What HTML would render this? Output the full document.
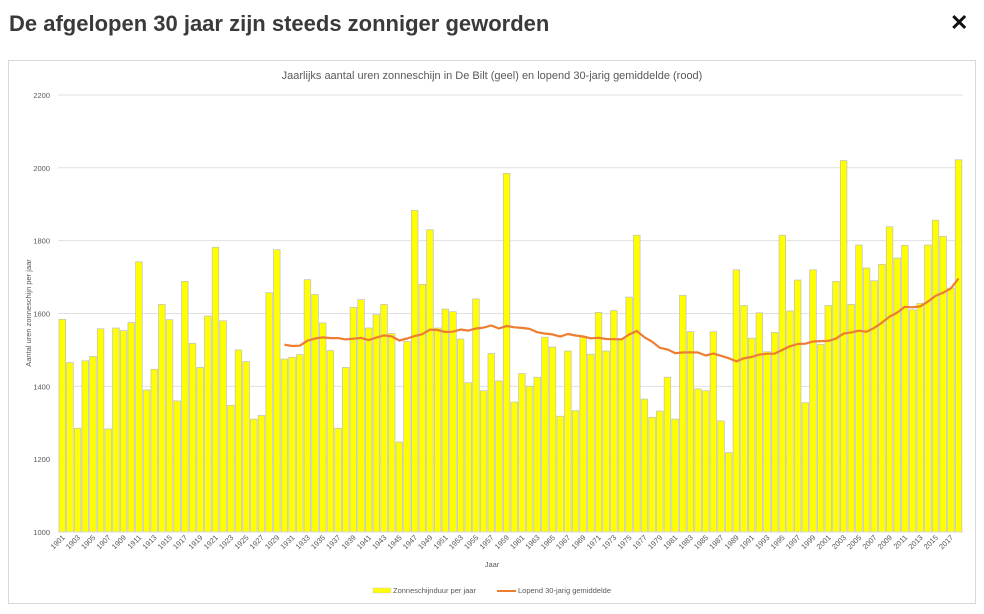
<!DOCTYPE html>
<html><head><meta charset="utf-8"><style>
body{margin:0;background:#fff;width:984px;height:614px;overflow:hidden;font-family:"Liberation Sans",sans-serif}
h1{position:absolute;left:9px;top:11px;margin:0;font-size:22px;font-weight:bold;color:#3a3a3a;letter-spacing:0px}
.x{position:absolute;left:950px;top:10px;font-size:22px;font-weight:bold;color:#111}
svg{position:absolute;left:0;top:0}
</style></head><body>
<h1>De afgelopen 30 jaar zijn steeds zonniger geworden</h1>
<div class="x">✕</div>
<svg id="s" width="984" height="614" xmlns="http://www.w3.org/2000/svg"></svg>
<script>
var d=[1584,1465,1285,1470,1482,1558,1283,1560,1553,1575,1742,1390,1447,1625,1583,1360,1688,1518,1452,1593,1782,1580,1348,1500,1468,1310,1320,1657,1775,1475,1480,1487,1693,1652,1574,1498,1285,1452,1617,1638,1560,1597,1625,1545,1247,1523,1883,1680,1830,1560,1612,1605,1530,1410,1640,1388,1490,1415,1985,1357,1435,1400,1425,1535,1508,1318,1497,1333,1535,1488,1603,1497,1608,1530,1645,1815,1365,1315,1332,1425,1310,1650,1550,1393,1388,1550,1305,1218,1720,1622,1532,1602,1495,1548,1815,1607,1692,1355,1720,1515,1622,1688,2020,1625,1788,1725,1690,1735,1838,1752,1787,1610,1628,1788,1856,1812,1670,2022];
function Y(v){return 532-(v-1000)*0.3642;}
var s='<rect x="8.5" y="60.5" width="967" height="543" fill="none" stroke="#d9d9d9"/>';
s+='<text x="492" y="79" font-size="11" fill="#595959" text-anchor="middle">Jaarlijks aantal uren zonneschijn in De Bilt (geel) en lopend 30-jarig gemiddelde (rood)</text>';
for(var v=1000;v<=2200;v+=200){var y=Y(v);s+='<line x1="58" x2="963" y1="'+y+'" y2="'+y+'" stroke="#e0e0e0"/>';s+='<text x="50" y="'+(y+3)+'" font-size="7.5" fill="#595959" text-anchor="end">'+v+'</text>';}
s+='<text transform="translate(31,313) rotate(-90)" font-size="7.5" fill="#595959" text-anchor="middle">Aantal uren zonneschijn per jaar</text>';
var p=7.66;
for(var i=0;i<d.length;i++){var x=59+i*p,y=Y(d[i]);s+='<rect x="'+x.toFixed(2)+'" y="'+y.toFixed(1)+'" width="6.6" height="'+(532-y).toFixed(1)+'" fill="#ffff00" stroke="#bfbfbf" stroke-width="0.7"/>';
if(i%2==0){var cx=x+3.3;s+='<text transform="translate('+(cx+3)+',538) rotate(-45)" font-size="7.5" fill="#595959" text-anchor="end">'+(1901+i)+'</text>';}}
var pts=[];for(var i=29;i<d.length;i++){var t=0;for(var j=i-29;j<=i;j++)t+=d[j];pts.push((59+i*p+3.3).toFixed(1)+','+Y(t/30).toFixed(1));}
s+='<polyline points="'+pts.join(' ')+'" fill="none" stroke="#ed7d31" stroke-width="2.2" stroke-linejoin="round"/>';
s+='<line x1="58" x2="963" y1="532" y2="532" stroke="#d9d9d9"/>';
s+='<text x="492" y="567" font-size="7.5" fill="#595959" text-anchor="middle">Jaar</text>';
s+='<rect x="373" y="588" width="18" height="5" fill="#ffff00" stroke="#c9c9c9" stroke-width="0.5"/><text x="393" y="593" font-size="7.5" fill="#595959">Zonneschijnduur per jaar</text>';
s+='<line x1="497" x2="516" y1="591" y2="591" stroke="#ed7d31" stroke-width="2"/><text x="518" y="593" font-size="7.5" fill="#595959">Lopend 30-jarig gemiddelde</text>';
document.getElementById('s').innerHTML=s;
</script>
</body></html>
